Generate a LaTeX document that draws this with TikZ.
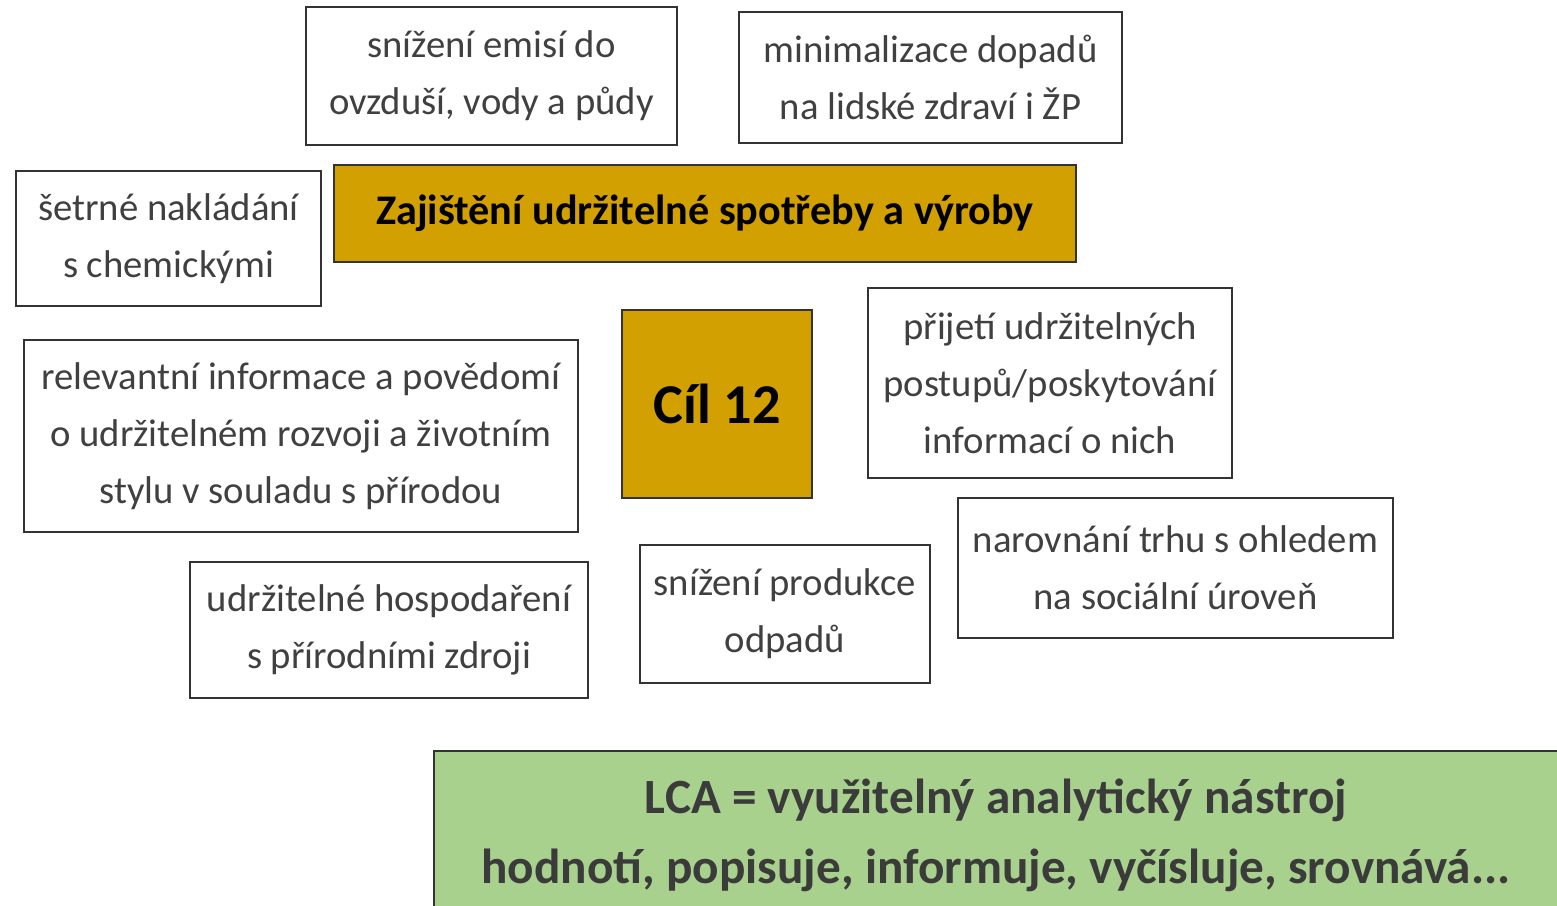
\documentclass[tikz,border=0pt]{standalone}
\usepackage{fontspec}
\setmainfont{Carlito}
\definecolor{goldfill}{RGB}{210,160,0}
\definecolor{greenfill}{RGB}{169,209,142}
\definecolor{txtgray}{RGB}{64,64,64}
\definecolor{lcagray}{RGB}{59,59,59}
\begin{document}
\begin{tikzpicture}[x=0.01cm, y=-0.01cm,
	plainbox/.style={draw=black!80, line width=0.6pt, fill=white, align=center, inner sep=0pt,
		text=txtgray, font=\fontsize{11}{16.2}\selectfont},
	goldbox/.style={draw=black!80, line width=0.6pt, fill=goldfill, align=center, inner sep=0pt,
		text=black, font=\bfseries\fontsize{12}{14}\selectfont},
	lcabox/.style={fill=greenfill, align=center, inner sep=0pt,
		text=lcagray, font=\bfseries\fontsize{14}{20}\selectfont}]
	%%%%% START %%%%%
	\useasboundingbox (0, 0) rectangle (1557, 905);
	
	\node[plainbox, minimum width=3.71cm, minimum height=1.38cm] (emise) at (491.5, 76) {snížení emisí do\\ovzduší, vody a půdy};
	\node[plainbox, minimum width=3.83cm, minimum height=1.31cm] (dopady) at (930.5, 77.5) {minimalizace dopadů\\na lidské zdraví i ŽP};
	
	\node[goldbox, minimum width=7.42cm, minimum height=0.97cm] (nazev) at (705, 213.5) {Zajištění udržitelné spotřeby a výroby};
	\node[plainbox, minimum width=3.05cm, minimum height=1.35cm] (chemie) at (168.5, 238.5) {šetrné nakládání\\s chemickými};
	
	\node[goldbox, font=\bfseries\fontsize{16}{20}\selectfont, minimum width=1.90cm, minimum height=1.88cm] (cil) at (717, 404) {Cíl 12};
	\node[plainbox, minimum width=5.54cm, minimum height=1.92cm] (povedomi) at (301, 436) {relevantní informace a povědomí\\o udržitelném rozvoji a životním\\stylu v souladu s přírodou};
	\node[plainbox, minimum width=3.64cm, minimum height=1.90cm] (postupy) at (1050, 383) {přijetí udržitelných\\postupů/poskytování\\informací o nich};
	
	\node[plainbox, minimum width=4.35cm, minimum height=1.40cm] (trh) at (1175.5, 568) {narovnání trhu s ohledem\\na sociální úroveň};
	\node[plainbox, minimum width=2.90cm, minimum height=1.38cm] (odpady) at (785, 614) {snížení produkce\\odpadů};
	\node[plainbox, minimum width=3.98cm, minimum height=1.36cm] (zdroje) at (389, 630) {udržitelné hospodaření\\s přírodními zdroji};
	
	% green box runs off the page at the right and bottom
	\node[lcabox, minimum width=11.22cm, minimum height=1.66cm] (lca) at (996, 835) {LCA = využitelný analytický nástroj\\hodnotí, popisuje, informuje, vyčísluje, srovnává...};
	\draw[black!80, line width=0.6pt] (lca.north east) -- (lca.north west) -- (lca.south west);
	%%%%% END %%%%%
\end{tikzpicture}
\end{document}
